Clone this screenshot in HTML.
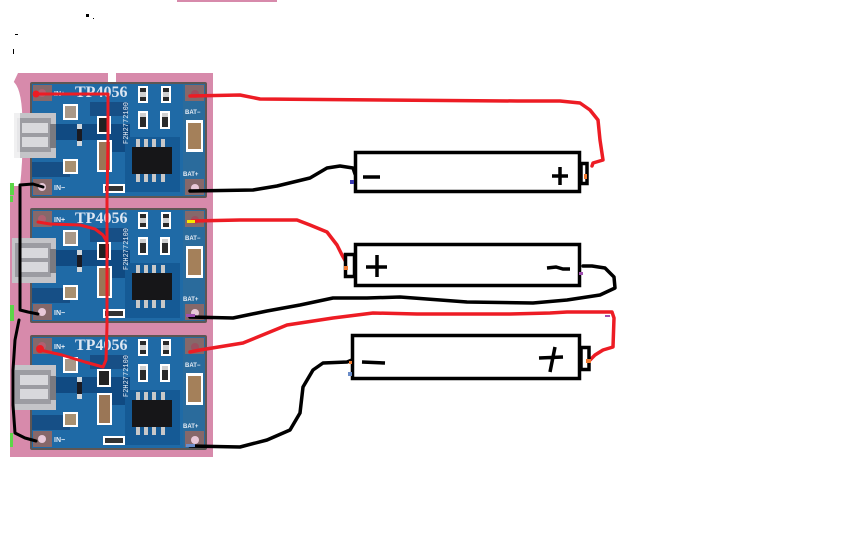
<!DOCTYPE html>
<html><head><meta charset="utf-8">
<style>
html,body{margin:0;padding:0;background:#fff;}
svg{display:block;}
</style></head>
<body>
<svg width="864" height="540" viewBox="0 0 864 540" xmlns="http://www.w3.org/2000/svg">
<rect width="864" height="540" fill="#fff"/>
<!-- top pink bar -->
<rect x="177" y="0" width="100" height="2" fill="#d78aab"/>
<!-- stray dots -->
<rect x="86" y="14" width="3" height="3" fill="#000"/>
<rect x="93" y="18" width="1" height="1" fill="#000"/>
<rect x="15" y="34" width="3" height="1" fill="#000"/>
<rect x="13" y="49" width="1" height="5" fill="#000"/>

<!-- pink background -->
<path d="M18,73 L108,73 L108,92 L116,92 L116,73 L213,73 L213,457 L10,457 L10,90 Z" fill="#d78aab"/>
<!-- white notch top -->
<path d="M108,73 L116,73 L115,86 L112,92 L109,86 Z" fill="#fff"/>
<!-- white cutout left board1 -->
<path d="M10,80 Q20,82 22,110 Q24,150 20,186 L10,186 Z" fill="#fff"/>

<!-- ================= BOARD TEMPLATE (3 copies) ================= -->
<g transform="translate(30,82)">
  <rect x="0" y="0" width="177" height="116" rx="2" fill="#5e5654"/>
  <rect x="2" y="2" width="173" height="112" fill="#1f6aa6"/>
  <rect x="153" y="2" width="22" height="112" fill="#2a6b9c"/>
  <path d="M18,42 L100,42 L100,70 L70,70 L70,58 L18,58 Z" fill="#104a82"/>
  <path d="M60,20 L98,20 L98,34 L60,34 Z" fill="#174f86"/>
  <path d="M95,55 L150,55 L150,110 L95,110 Z" fill="#155a95"/>
  <path d="M2,80 L40,80 L40,95 L2,95 Z" fill="#164f86"/>
  <!-- corner pads -->
  <rect x="3" y="3" width="19" height="16" fill="#86686a"/>
  <circle cx="12" cy="11" r="4" fill="#b06070"/>
  <rect x="3" y="97" width="19" height="16" fill="#86686a"/>
  <circle cx="12" cy="105" r="4" fill="#e8c8d8"/>
  <rect x="155" y="3" width="19" height="16" fill="#86686a"/>
  <circle cx="165" cy="12" r="4" fill="#9a5060"/>
  <rect x="155" y="97" width="19" height="16" fill="#86686a"/>
  <circle cx="165" cy="106" r="4" fill="#e8c8d8"/>
  <!-- texts -->
  <text x="24" y="14" font-family="Liberation Sans, sans-serif" font-size="7" font-weight="bold" fill="#e8eef6">IN+</text>
  <text x="45" y="15" font-family="Liberation Serif, serif" font-size="16" font-weight="bold" fill="#dde6f2">TP4056</text>
  <text x="24" y="108" font-family="Liberation Sans, sans-serif" font-size="7" font-weight="bold" fill="#e8eef6">IN−</text>
  <text x="155" y="32" font-family="Liberation Sans, sans-serif" font-size="6" font-weight="bold" fill="#e8eef6">BAT−</text>
  <text x="153" y="94" font-family="Liberation Sans, sans-serif" font-size="6" font-weight="bold" fill="#e8eef6">BAT+</text>
  <text transform="translate(98,62) rotate(-90)" font-family="Liberation Mono, monospace" font-size="7" fill="#e8eef6">F2H2772100</text>
  <!-- components -->
  <rect x="33" y="22" width="15" height="16" fill="#fff"/><rect x="35" y="24" width="11" height="12" fill="#a89888"/>
  <rect x="33" y="77" width="15" height="15" fill="#fff"/><rect x="35" y="79" width="11" height="11" fill="#a89070"/>
  <rect x="47" y="42" width="5" height="22" fill="#cfd6dc"/><rect x="47" y="47" width="5" height="12" fill="#1a1a22"/>
  <rect x="67" y="34" width="14" height="18" fill="#fff"/><rect x="69" y="36" width="10" height="14" fill="#222"/>
  <rect x="67" y="58" width="15" height="32" fill="#fff"/><rect x="69" y="60" width="11" height="28" fill="#9a7656"/>
  <rect x="73" y="102" width="22" height="9" fill="#fff"/><rect x="75" y="104" width="18" height="5" fill="#333"/>
  <rect x="108" y="4" width="10" height="17" fill="#fff"/><rect x="110" y="6" width="6" height="13" fill="#2a2a2a"/><rect x="110" y="10" width="6" height="5" fill="#cfcfcf"/>
  <rect x="131" y="4" width="10" height="17" fill="#fff"/><rect x="133" y="6" width="6" height="13" fill="#2a2a2a"/><rect x="133" y="10" width="6" height="5" fill="#cfcfcf"/>
  <rect x="108" y="29" width="10" height="18" fill="#fff"/><rect x="110" y="31" width="6" height="14" fill="#2a2a2a"/><rect x="110" y="31" width="6" height="4" fill="#cfcfcf"/>
  <rect x="130" y="29" width="10" height="18" fill="#fff"/><rect x="132" y="31" width="6" height="14" fill="#2a2a2a"/><rect x="132" y="31" width="6" height="4" fill="#cfcfcf"/>
  <!-- chip -->
  <rect x="106" y="57" width="4" height="9" fill="#c8c8c8"/><rect x="114" y="57" width="4" height="9" fill="#c8c8c8"/><rect x="122" y="57" width="4" height="9" fill="#c8c8c8"/><rect x="131" y="57" width="4" height="9" fill="#c8c8c8"/>
  <rect x="106" y="91" width="4" height="9" fill="#c8c8c8"/><rect x="114" y="91" width="4" height="9" fill="#c8c8c8"/><rect x="122" y="91" width="4" height="9" fill="#c8c8c8"/><rect x="131" y="91" width="4" height="9" fill="#c8c8c8"/>
  <rect x="102" y="65" width="40" height="27" fill="#161618"/>
  <!-- right capacitor -->
  <rect x="156" y="38" width="17" height="32" fill="#fff"/><rect x="158" y="41" width="13" height="26" fill="#a4805a"/>
  <!-- USB -->
  <rect x="-16" y="31" width="42" height="45" fill="#c4c4c8"/>
  <rect x="-13" y="36" width="34" height="34" fill="#9c9ca2"/>
  <rect x="-8" y="41" width="26" height="10" fill="#d8d8dc"/>
  <rect x="-8" y="55" width="26" height="10" fill="#d8d8dc"/>
  <rect x="20" y="42" width="6" height="24" fill="#7a7a80"/>
</g>
<!-- whiten left of board1 USB -->
<path d="M10,112 L20,112 L20,160 L10,160 Z" fill="#fff" opacity="0.75"/>

<g transform="translate(30,208)">
  <rect x="0" y="0" width="177" height="115" rx="2" fill="#5e5654"/>
  <rect x="2" y="2" width="173" height="111" fill="#1f6aa6"/>
  <rect x="153" y="2" width="22" height="111" fill="#2a6b9c"/>
  <path d="M18,42 L100,42 L100,70 L70,70 L70,58 L18,58 Z" fill="#104a82"/>
  <path d="M60,20 L98,20 L98,34 L60,34 Z" fill="#174f86"/>
  <path d="M95,55 L150,55 L150,110 L95,110 Z" fill="#155a95"/>
  <path d="M2,80 L40,80 L40,95 L2,95 Z" fill="#164f86"/>
  <rect x="3" y="3" width="19" height="16" fill="#86686a"/>
  <circle cx="12" cy="11" r="4" fill="#b06070"/>
  <rect x="3" y="96" width="19" height="16" fill="#86686a"/>
  <circle cx="12" cy="104" r="4" fill="#e8c8d8"/>
  <rect x="155" y="3" width="19" height="16" fill="#86686a"/>
  <circle cx="165" cy="12" r="4" fill="#9a5060"/>
  <rect x="155" y="96" width="19" height="16" fill="#86686a"/>
  <circle cx="165" cy="105" r="4" fill="#e8c8d8"/>
  <text x="24" y="14" font-family="Liberation Sans, sans-serif" font-size="7" font-weight="bold" fill="#e8eef6">IN+</text>
  <text x="45" y="15" font-family="Liberation Serif, serif" font-size="16" font-weight="bold" fill="#dde6f2">TP4056</text>
  <text x="24" y="107" font-family="Liberation Sans, sans-serif" font-size="7" font-weight="bold" fill="#e8eef6">IN−</text>
  <text x="155" y="32" font-family="Liberation Sans, sans-serif" font-size="6" font-weight="bold" fill="#e8eef6">BAT−</text>
  <text x="153" y="93" font-family="Liberation Sans, sans-serif" font-size="6" font-weight="bold" fill="#e8eef6">BAT+</text>
  <text transform="translate(98,62) rotate(-90)" font-family="Liberation Mono, monospace" font-size="7" fill="#e8eef6">F2H2772100</text>
  <rect x="33" y="22" width="15" height="16" fill="#fff"/><rect x="35" y="24" width="11" height="12" fill="#a89888"/>
  <rect x="33" y="77" width="15" height="15" fill="#fff"/><rect x="35" y="79" width="11" height="11" fill="#a89070"/>
  <rect x="47" y="42" width="5" height="22" fill="#cfd6dc"/><rect x="47" y="47" width="5" height="12" fill="#1a1a22"/>
  <rect x="67" y="34" width="14" height="18" fill="#fff"/><rect x="69" y="36" width="10" height="14" fill="#222"/>
  <rect x="67" y="58" width="15" height="32" fill="#fff"/><rect x="69" y="60" width="11" height="28" fill="#9a7656"/>
  <rect x="73" y="101" width="22" height="9" fill="#fff"/><rect x="75" y="103" width="18" height="5" fill="#333"/>
  <rect x="108" y="4" width="10" height="17" fill="#fff"/><rect x="110" y="6" width="6" height="13" fill="#2a2a2a"/><rect x="110" y="10" width="6" height="5" fill="#cfcfcf"/>
  <rect x="131" y="4" width="10" height="17" fill="#fff"/><rect x="133" y="6" width="6" height="13" fill="#2a2a2a"/><rect x="133" y="10" width="6" height="5" fill="#cfcfcf"/>
  <rect x="108" y="29" width="10" height="18" fill="#fff"/><rect x="110" y="31" width="6" height="14" fill="#2a2a2a"/><rect x="110" y="31" width="6" height="4" fill="#cfcfcf"/>
  <rect x="130" y="29" width="10" height="18" fill="#fff"/><rect x="132" y="31" width="6" height="14" fill="#2a2a2a"/><rect x="132" y="31" width="6" height="4" fill="#cfcfcf"/>
  <rect x="106" y="57" width="4" height="9" fill="#c8c8c8"/><rect x="114" y="57" width="4" height="9" fill="#c8c8c8"/><rect x="122" y="57" width="4" height="9" fill="#c8c8c8"/><rect x="131" y="57" width="4" height="9" fill="#c8c8c8"/>
  <rect x="106" y="91" width="4" height="9" fill="#c8c8c8"/><rect x="114" y="91" width="4" height="9" fill="#c8c8c8"/><rect x="122" y="91" width="4" height="9" fill="#c8c8c8"/><rect x="131" y="91" width="4" height="9" fill="#c8c8c8"/>
  <rect x="102" y="65" width="40" height="27" fill="#161618"/>
  <rect x="156" y="38" width="17" height="32" fill="#fff"/><rect x="158" y="41" width="13" height="26" fill="#a4805a"/>
  <rect x="-18" y="30" width="44" height="45" fill="#c4c4c8"/>
  <rect x="-15" y="35" width="36" height="34" fill="#9c9ca2"/>
  <rect x="-10" y="40" width="28" height="10" fill="#d8d8dc"/>
  <rect x="-10" y="54" width="28" height="10" fill="#d8d8dc"/>
  <rect x="20" y="41" width="6" height="24" fill="#7a7a80"/>
</g>

<g transform="translate(30,335)">
  <rect x="0" y="0" width="177" height="115" rx="2" fill="#5e5654"/>
  <rect x="2" y="2" width="173" height="111" fill="#1f6aa6"/>
  <rect x="153" y="2" width="22" height="111" fill="#2a6b9c"/>
  <path d="M18,42 L100,42 L100,70 L70,70 L70,58 L18,58 Z" fill="#104a82"/>
  <path d="M60,20 L98,20 L98,34 L60,34 Z" fill="#174f86"/>
  <path d="M95,55 L150,55 L150,110 L95,110 Z" fill="#155a95"/>
  <path d="M2,80 L40,80 L40,95 L2,95 Z" fill="#164f86"/>
  <rect x="3" y="3" width="19" height="16" fill="#86686a"/>
  <circle cx="12" cy="11" r="4" fill="#b06070"/>
  <rect x="3" y="96" width="19" height="16" fill="#86686a"/>
  <circle cx="12" cy="104" r="4" fill="#e8c8d8"/>
  <rect x="155" y="3" width="19" height="16" fill="#86686a"/>
  <circle cx="165" cy="12" r="4" fill="#9a5060"/>
  <rect x="155" y="96" width="19" height="16" fill="#86686a"/>
  <circle cx="165" cy="105" r="4" fill="#e8c8d8"/>
  <text x="24" y="14" font-family="Liberation Sans, sans-serif" font-size="7" font-weight="bold" fill="#e8eef6">IN+</text>
  <text x="45" y="15" font-family="Liberation Serif, serif" font-size="16" font-weight="bold" fill="#dde6f2">TP4056</text>
  <text x="24" y="107" font-family="Liberation Sans, sans-serif" font-size="7" font-weight="bold" fill="#e8eef6">IN−</text>
  <text x="155" y="32" font-family="Liberation Sans, sans-serif" font-size="6" font-weight="bold" fill="#e8eef6">BAT−</text>
  <text x="153" y="93" font-family="Liberation Sans, sans-serif" font-size="6" font-weight="bold" fill="#e8eef6">BAT+</text>
  <text transform="translate(98,62) rotate(-90)" font-family="Liberation Mono, monospace" font-size="7" fill="#e8eef6">F2H2772100</text>
  <rect x="33" y="22" width="15" height="16" fill="#fff"/><rect x="35" y="24" width="11" height="12" fill="#a89888"/>
  <rect x="33" y="77" width="15" height="15" fill="#fff"/><rect x="35" y="79" width="11" height="11" fill="#a89070"/>
  <rect x="47" y="42" width="5" height="22" fill="#cfd6dc"/><rect x="47" y="47" width="5" height="12" fill="#1a1a22"/>
  <rect x="67" y="34" width="14" height="18" fill="#fff"/><rect x="69" y="36" width="10" height="14" fill="#222"/>
  <rect x="67" y="58" width="15" height="32" fill="#fff"/><rect x="69" y="60" width="11" height="28" fill="#9a7656"/>
  <rect x="73" y="101" width="22" height="9" fill="#fff"/><rect x="75" y="103" width="18" height="5" fill="#333"/>
  <rect x="108" y="4" width="10" height="17" fill="#fff"/><rect x="110" y="6" width="6" height="13" fill="#2a2a2a"/><rect x="110" y="10" width="6" height="5" fill="#cfcfcf"/>
  <rect x="131" y="4" width="10" height="17" fill="#fff"/><rect x="133" y="6" width="6" height="13" fill="#2a2a2a"/><rect x="133" y="10" width="6" height="5" fill="#cfcfcf"/>
  <rect x="108" y="29" width="10" height="18" fill="#fff"/><rect x="110" y="31" width="6" height="14" fill="#2a2a2a"/><rect x="110" y="31" width="6" height="4" fill="#cfcfcf"/>
  <rect x="130" y="29" width="10" height="18" fill="#fff"/><rect x="132" y="31" width="6" height="14" fill="#2a2a2a"/><rect x="132" y="31" width="6" height="4" fill="#cfcfcf"/>
  <rect x="106" y="57" width="4" height="9" fill="#c8c8c8"/><rect x="114" y="57" width="4" height="9" fill="#c8c8c8"/><rect x="122" y="57" width="4" height="9" fill="#c8c8c8"/><rect x="131" y="57" width="4" height="9" fill="#c8c8c8"/>
  <rect x="106" y="91" width="4" height="9" fill="#c8c8c8"/><rect x="114" y="91" width="4" height="9" fill="#c8c8c8"/><rect x="122" y="91" width="4" height="9" fill="#c8c8c8"/><rect x="131" y="91" width="4" height="9" fill="#c8c8c8"/>
  <rect x="102" y="65" width="40" height="27" fill="#161618"/>
  <rect x="156" y="38" width="17" height="32" fill="#fff"/><rect x="158" y="41" width="13" height="26" fill="#a4805a"/>
  <rect x="-18" y="30" width="44" height="45" fill="#c4c4c8"/>
  <rect x="-15" y="35" width="36" height="34" fill="#9c9ca2"/>
  <rect x="-10" y="40" width="28" height="10" fill="#d8d8dc"/>
  <rect x="-10" y="54" width="28" height="10" fill="#d8d8dc"/>
  <rect x="20" y="41" width="6" height="24" fill="#7a7a80"/>
</g>

<!-- green marks -->
<rect x="10" y="183" width="4" height="12" fill="#5cd648"/>
<rect x="10" y="196" width="3" height="6" fill="#5cd648"/>
<rect x="10" y="305" width="4" height="16" fill="#5cd648"/>
<rect x="10" y="433" width="3" height="14" fill="#5cd648"/>

<g fill="none" stroke-linecap="round" stroke-linejoin="round">
<!-- left red IN+ bus -->
<path d="M35,94 L108,94 L108,140 L107,200 L107,325 L106,360 L103,367 L85,362 L62,355 L40,350" stroke="#ed1c24" stroke-width="3"/>
<path d="M38,222 L50,224 L80,225 L95,229 L103,235 L107,242" stroke="#ed1c24" stroke-width="3"/>
<!-- left black IN- bus -->
<path d="M43,187 L33,184 L20,185 L20,200 L20,310 L28,312 L38,314" stroke="#000" stroke-width="3"/>
<path d="M19,320 L15,340 L13,370 L13,405 L15,433 L25,438 L36,441" stroke="#000" stroke-width="3"/>

<!-- red wire 1 -->
<path d="M190,96 L240,95 L260,99 L517,101 L560,101 L580,103 L590,110 L598,120 L600,140 L603,160 L593,163 L592,166" stroke="#ed1c24" stroke-width="3.5"/>
<!-- black wire 1 -->
<path d="M190,191 L253,190 L277,186 L310,178 L327,168 L340,166 L353,168 L355,174" stroke="#000" stroke-width="3.5"/>
<!-- red wire 2 -->
<path d="M192,221 L240,220 L297,220 L310,225 L327,232 L337,245 L342,255 L346,262" stroke="#ed1c24" stroke-width="3.5"/>
<!-- black wire 2 -->
<path d="M190,317 L233,318 L267,311 L300,305 L333,298 L367,298 L400,297 L467,302 L533,303 L567,300 L600,295 L615,288 L614,277 L605,268 L592,266 L583,266" stroke="#000" stroke-width="3.5"/>
<!-- red wire 3 -->
<path d="M190,352 L200,350 L243,343 L287,325 L333,318 L373,313 L417,314 L510,314 L550,313 L567,312 L612,312 L614,318 L613,347 L603,350 L595,355 L588,362" stroke="#ed1c24" stroke-width="3.5"/>
<!-- black wire 3 -->
<path d="M190,446 L240,447 L267,440 L290,430 L300,413 L303,387 L313,370 L323,363 L347,362 L352,360" stroke="#000" stroke-width="3.5"/>
</g>

<!-- markers -->
<circle cx="36" cy="94" r="3.5" fill="#ed1c24"/>
<circle cx="40" cy="349" r="4" fill="#ed1c24"/>
<rect x="187" y="220" width="8" height="3" fill="#f7e600"/>
<rect x="186" y="314" width="9" height="3" fill="#a050b0"/>
<rect x="186" y="444" width="9" height="3" fill="#6a8cc8"/>

<!-- batteries -->
<g fill="#fff" stroke="#000" stroke-width="3.5">
  <rect x="355.5" y="152.5" width="224" height="39"/>
  <rect x="581" y="163.5" width="6" height="20"/>
  <rect x="355.5" y="244.5" width="224" height="41"/>
  <rect x="345.5" y="254.5" width="9" height="22"/>
  <rect x="352.5" y="335.5" width="227" height="43"/>
  <rect x="581" y="347.5" width="8" height="22"/>
</g>
<g stroke="#000" stroke-width="3.5" fill="none" stroke-linecap="butt">
  <path d="M363,177 L380,177"/>
  <path d="M552,176 L568,176 M560,167 L560,185"/>
  <path d="M366,267 L387,267 M377,255 L377,277"/>
  <path d="M547,268 L556,267 L563,269 L570,269"/>
  <path d="M362,362 L385,363"/>
  <path d="M539,358 L563,357 M555,347 L550,372"/>
</g>
<rect x="584" y="174" width="3" height="5" fill="#f07a30"/>
<rect x="344" y="266" width="4" height="4" fill="#f07a30"/>
<rect x="586" y="359" width="5" height="4" fill="#f07a30"/>
<rect x="349" y="361" width="3" height="3" fill="#f07a30"/>
<rect x="348" y="372" width="4" height="4" fill="#6a8cc8"/>
<rect x="350" y="180" width="4" height="4" fill="#3a3ab0"/>
<rect x="579" y="272" width="4" height="3" fill="#a050b0"/>
<rect x="605" y="315" width="5" height="2" fill="#a050b0"/>
</svg>
</body></html>
